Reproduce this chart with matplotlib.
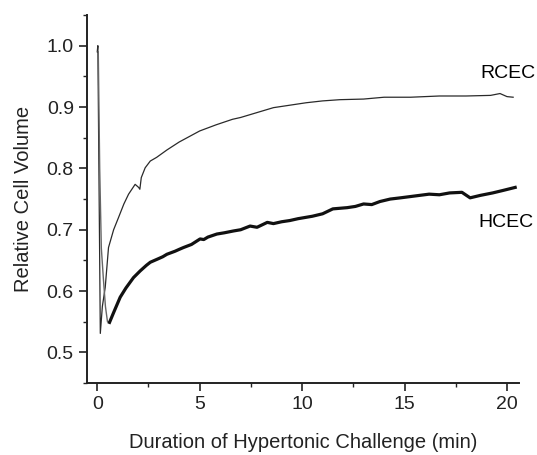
import matplotlib.pyplot as plt
from matplotlib.ticker import MultipleLocator

plt.rcParams['font.family'] = ['Liberation Sans', 'DejaVu Sans']

# values
rcec_t = [0.0, 0.03, 0.15, 0.25, 0.39, 0.55, 0.8, 1.04, 1.3, 1.53, 1.85, 2.02, 2.08,
          2.15, 2.34, 2.59, 2.9, 3.4, 4.0, 4.5, 5.0, 5.8, 6.6, 7.0, 7.8, 8.6, 9.4,
          10.2, 11.0, 11.85, 13.0, 14.0, 15.3, 16.7, 18.0, 19.2, 19.66, 20.0, 20.3]
rcec_v = [0.99, 1.0, 0.531, 0.575, 0.606, 0.671, 0.70, 0.72, 0.742, 0.758, 0.774, 0.769,
          0.766, 0.785, 0.801, 0.812, 0.818, 0.830, 0.843, 0.852, 0.861, 0.871, 0.880,
          0.883, 0.891, 0.899, 0.903, 0.907, 0.910, 0.912, 0.913, 0.916, 0.916, 0.918,
          0.918, 0.919, 0.922, 0.917, 0.916]

hcec_t = [0.05, 0.12, 0.2, 0.3, 0.4, 0.5, 0.6, 0.8, 1.12, 1.4, 1.77, 2.1, 2.4, 2.59,
          3.0, 3.2, 3.4, 3.8, 4.0, 4.21, 4.6, 5.02, 5.2, 5.4, 5.84, 6.2, 6.65, 7.0,
          7.46, 7.8, 8.3, 8.6, 9.0, 9.4, 9.8, 10.5, 11.0, 11.5, 12.2, 12.6, 13.0, 13.4,
          13.8, 14.3, 14.8, 15.5, 16.2, 16.7, 17.2, 17.8, 18.2, 18.7, 19.3, 19.8, 20.4]
hcec_v = [0.99, 0.80, 0.67, 0.62, 0.575, 0.55, 0.549, 0.565, 0.590, 0.605, 0.622, 0.633,
          0.642, 0.647, 0.653, 0.656, 0.660, 0.665, 0.668, 0.671, 0.676, 0.685, 0.684,
          0.688, 0.693, 0.695, 0.698, 0.700, 0.706, 0.704, 0.712, 0.710, 0.713, 0.715,
          0.718, 0.722, 0.726, 0.734, 0.736, 0.738, 0.742, 0.741, 0.746, 0.750, 0.752,
          0.755, 0.758, 0.757, 0.760, 0.761, 0.752, 0.756, 0.760, 0.764, 0.769]

fig = plt.figure(figsize=(5.37, 4.55), dpi=100)
ax = fig.add_axes([0.162, 0.158, 0.805, 0.809])

ax.plot(rcec_t, rcec_v, color='#2a2a2a', lw=0.9)
# fast drop is drawn thin and grey in the original, the recovery thick
ax.plot(hcec_t[:7], hcec_v[:7], color='#666666', lw=1.0)
ax.plot(hcec_t[6:], hcec_v[6:], color='#111111', lw=2.3)

ax.text(18.7, 0.955, 'RCEC', fontsize=14, va='center', clip_on=False)
ax.text(18.6, 0.711, 'HCEC', fontsize=14, va='center', clip_on=False)

ax.set_xlim(-0.5, 20.6)
ax.set_ylim(0.45, 1.05)
ax.xaxis.set_major_locator(MultipleLocator(5))
ax.xaxis.set_minor_locator(MultipleLocator(2.5))
ax.yaxis.set_major_locator(MultipleLocator(0.1))
ax.yaxis.set_minor_locator(MultipleLocator(0.05))
ax.yaxis.set_major_formatter(plt.FormatStrFormatter('%.1f'))

for s in ['top', 'right']:
    ax.spines[s].set_visible(False)
for s in ['left', 'bottom']:
    ax.spines[s].set_linewidth(1.4)
    ax.spines[s].set_color('#222222')

ax.tick_params(which='major', direction='out', length=6, width=1.2, labelsize=14,
               colors='#222222')
ax.tick_params(which='minor', direction='out', length=3, width=1.0, colors='#222222')

ax.set_xlabel('Duration of Hypertonic Challenge (min)', fontsize=14.5, labelpad=14,
              color='#222222')
ax.set_ylabel('Relative Cell Volume', fontsize=14.5, labelpad=10, color='#222222')

plt.savefig('out.png', dpi=100)
